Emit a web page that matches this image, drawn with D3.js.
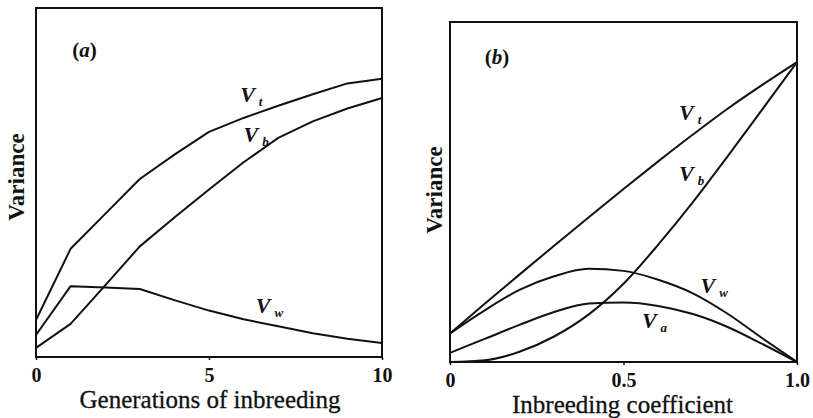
<!DOCTYPE html>
<html>
<head>
<meta charset="utf-8">
<script src="https://cdn.jsdelivr.net/npm/d3@7"></script>
<style>
  html, body { margin: 0; padding: 0; background: #fff; }
  svg { display: block; }
  text { font-family: "Liberation Serif", "DejaVu Serif", serif; fill: #111; }
</style>
</head>
<body>
<svg id="chart" width="813" height="418"></svg>
<script>
// ---- Panel (a): generations of inbreeding ----
const generations = [0, 1, 2, 3, 4, 5, 6, 7, 8, 9, 10];
const genTicks = [0, 5, 10];
const aVt = [10.6, 31.0, 41.0, 51.0, 58.0, 64.5, 68.5, 72.0, 75.3, 78.4, 79.7];
const aVb = [2.6, 9.5, 20.5, 31.7, 40.0, 48.0, 55.8, 62.8, 67.5, 71.2, 74.2];
const aVw = [6.3, 20.3, 19.9, 19.5, 16.3, 13.3, 10.8, 8.8, 6.8, 5.2, 4.0];

// ---- Panel (b): inbreeding coefficient ----
const coefF = [0, 0.1, 0.2, 0.3, 0.4, 0.5, 0.6, 0.7, 0.8, 0.9, 1.0];
const coefTicks = [0, 0.5, 1.0];
const coefTickLabels = ["0", "0.5", "1.0"];
const bVt = [8.4, 17.1, 25.7, 34.2, 42.6, 50.9, 59.0, 66.9, 74.5, 81.5, 88.2];
const bVb = [0, 0.5, 3.0, 7.5, 14.0, 23.0, 34.5, 47.0, 60.5, 74.3, 88.2];
const bVw = [8.4, 15.2, 21.2, 25.2, 27.4, 26.8, 24.2, 20.2, 14.2, 7.0, 0];
const bVa = [2.7, 6.8, 10.9, 14.7, 17.2, 17.5, 16.5, 14.1, 10.3, 5.3, 0];

const svg = d3.select("#chart");
const ink = "#111";

function panel(opts) {
  const g = svg.append("g");
  const x = d3.scaleLinear().domain(opts.xDomain).range([opts.left, opts.right]);
  const y = d3.scaleLinear().domain([0, 100]).range([opts.bottom, opts.top]);

  // frame
  g.append("rect")
    .attr("x", opts.left).attr("y", opts.top)
    .attr("width", opts.right - opts.left).attr("height", opts.bottom - opts.top)
    .attr("fill", "none").attr("stroke", ink).attr("stroke-width", 2);

  // x axis
  const ax = g.append("g")
    .attr("transform", `translate(0,${opts.bottom})`)
    .call(d3.axisBottom(x).tickValues(opts.ticks).tickSize(3).tickPadding(8)
      .tickFormat((d, i) => opts.tickLabels[i]));
  ax.select(".domain").remove();
  ax.selectAll(".tick line").attr("stroke", ink).attr("stroke-width", 1.5);
  ax.selectAll(".tick text")
    .attr("font-size", 20).attr("font-weight", "bold").attr("fill", ink);

  // x title
  g.append("text")
    .attr("x", (opts.left + opts.right) / 2 + opts.xTitleDx).attr("y", opts.xTitleY)
    .attr("text-anchor", "middle").attr("font-size", 25)
    .attr("stroke", ink).attr("stroke-width", 0.3)
    .text(opts.xTitle);

  // y title
  g.append("text")
    .attr("transform", `translate(${opts.yTitleX},${opts.yTitleY}) rotate(-90)`)
    .attr("text-anchor", "middle").attr("font-size", 23).attr("font-weight", "bold")
    .text("Variance");

  // curves
  const line = d3.line()
    .x(d => x(d[0])).y(d => y(d[1]))
    .curve(opts.curve);
  opts.series.forEach(s => {
    g.append("path")
      .datum(opts.xs.map((v, i) => [v, s.values[i]]))
      .attr("d", line)
      .attr("fill", "none").attr("stroke", ink).attr("stroke-width", 2)
      .attr("stroke-linejoin", "round");
    const t = g.append("text")
      .attr("x", x(s.lx)).attr("y", y(s.ly))
      .attr("font-size", 22).attr("font-weight", "bold").attr("font-style", "italic");
    t.append("tspan").text("V");
    t.append("tspan").attr("dx", 4).attr("dy", 4).attr("font-size", 13).text(s.sub);
  });

  // panel tag
  const tag = g.append("text")
    .attr("x", x(opts.tag.x)).attr("y", y(opts.tag.y))
    .attr("font-size", 21).attr("font-weight", "bold");
  tag.append("tspan").text("(");
  tag.append("tspan").attr("font-style", "italic").text(opts.tag.label);
  tag.append("tspan").text(")");
}

panel({
  xDomain: [0, 10], left: 36, right: 382, top: 8, bottom: 357,
  ticks: genTicks, tickLabels: genTicks.map(String),
  xTitle: "Generations of inbreeding", xTitleY: 408, xTitleDx: 1,
  yTitleX: 24, yTitleY: 177,
  xs: generations, curve: d3.curveLinear,
  series: [
    { values: aVt, sub: "t", lx: 5.9, ly: 73 },
    { values: aVb, sub: "b", lx: 6.0, ly: 61.6 },
    { values: aVw, sub: "w", lx: 6.35, ly: 12.6 }
  ],
  tag: { x: 1.05, y: 86, label: "a" }
});

panel({
  xDomain: [0, 1], left: 450, right: 797, top: 22, bottom: 362,
  ticks: coefTicks, tickLabels: coefTickLabels,
  xTitle: "Inbreeding coefficient", xTitleY: 413, xTitleDx: -1,
  yTitleX: 442, yTitleY: 190,
  xs: coefF, curve: d3.curveMonotoneX,
  series: [
    { values: bVt, sub: "t", lx: 0.66, ly: 71.2 },
    { values: bVb, sub: "b", lx: 0.66, ly: 53.2 },
    { values: bVw, sub: "w", lx: 0.722, ly: 20.3 },
    { values: bVa, sub: "a", lx: 0.553, ly: 10 }
  ],
  tag: { x: 0.1, y: 87.6, label: "b" }
});
</script>
</body>
</html>
